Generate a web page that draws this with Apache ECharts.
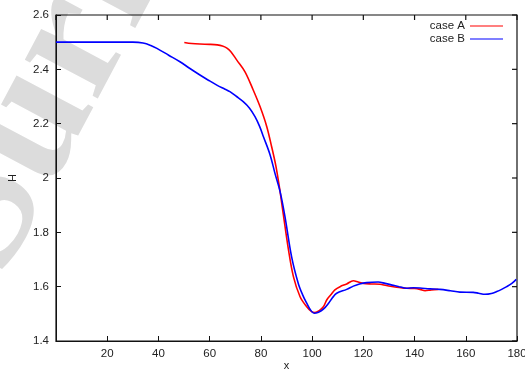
<!DOCTYPE html>
<html><head><meta charset="utf-8">
<script src="https://cdn.jsdelivr.net/npm/echarts@6/dist/echarts.min.js"></script>
<style>html,body{margin:0;padding:0;background:#fff}#c{width:525px;height:372px}</style>
</head><body><div id="c"></div>
<script>
const xTicks = [0, 20, 40, 60, 80, 100, 120, 140, 160, 180];
const yTicks = [1.4, 1.6, 1.8, 2.0, 2.2, 2.4, 2.6];
const caseA = [
 [50.1,2.499],[53,2.495],[56.2,2.493],[60,2.492],[63,2.49],[65,2.486],[66.6,2.479],[68.2,2.466],[70.6,2.434],[73.8,2.391],[77,2.324],[79.7,2.262],[82.3,2.189],[84.2,2.115],[85.9,2.042],[87.2,1.968],[88.7,1.87],[90.7,1.74],[92.7,1.637],[95.3,1.563],[97.9,1.526],[99.8,1.508],[101.1,1.505],[102.8,1.512],[104.4,1.526],[105.7,1.551],[107.3,1.57],[108.9,1.588],[110.9,1.6],[113.5,1.61],[116.1,1.622],[118,1.617],[120,1.612],[123,1.61],[126.5,1.609],[129,1.604],[131.7,1.6],[134,1.597],[136.9,1.594],[140,1.593],[142.1,1.59],[144.1,1.585],[146.5,1.588],[149.3,1.59]
];
const caseB = [
 [0,2.5],[10,2.5],[20,2.5],[30,2.5],[34,2.497],[37,2.488],[39.4,2.477],[44,2.452],[48.4,2.428],[52,2.405],[56.2,2.379],[59.5,2.36],[62.8,2.342],[66,2.327],[67.9,2.318],[70.5,2.3],[73.1,2.281],[75.5,2.258],[77.7,2.226],[79.5,2.19],[81,2.152],[83.6,2.085],[85.5,2.017],[87.5,1.95],[89.4,1.858],[92,1.71],[94.6,1.612],[96.3,1.57],[97.9,1.539],[99.3,1.515],[100.8,1.502],[102.5,1.506],[104.4,1.517],[106.5,1.54],[108,1.56],[109.6,1.576],[113.5,1.59],[116.1,1.602],[118.5,1.61],[121.3,1.615],[125.8,1.617],[128.5,1.612],[131.7,1.605],[134,1.6],[136.9,1.594],[139.5,1.596],[142.1,1.595],[146,1.592],[149.9,1.59],[154,1.585],[157.7,1.58],[162.9,1.579],[165,1.576],[167.5,1.572],[170,1.575],[172.1,1.582],[174,1.59],[176,1.6],[178,1.612],[179.7,1.627]
];
const seriesNames = ['case A', 'case B'];

const chart = echarts.init(document.getElementById('c'), null, {renderer:'canvas'});
const axisCol = '#111111';
const font = 'Liberation Sans, Arial, sans-serif';
function mirrorTicks(params, api) {
  const kind = api.value(0);
  const v = api.value(1);
  let p, q;
  if (kind === 0) { p = api.coord([v, 2.6]); q = [p[0], p[1] + 5]; }
  else { p = api.coord([180, v]); q = [p[0] - 5, p[1]]; }
  return {type:'line', shape:{x1:p[0], y1:p[1], x2:q[0], y2:q[1]}, style:{stroke:'#111111', lineWidth:1.2}};
}
const mirrorData = xTicks.map(t => [0, t]).concat(yTicks.map(t => [1, t]));
chart.setOption({
  animation:false,
  backgroundColor:'#fff',
  graphic:[{
    type:'text', z:-10, silent:true,
    x:40, y:300, rotation:62*Math.PI/180,
    style:{text:'Surf', fill:'#dcdcdc', font:'bold 180px "Liberation Serif", serif', textAlign:'left', textVerticalAlign:'bottom'}
  }],
  grid:{left:56, right:8, top:15, bottom:31, outerBoundsMode:'none', show:true, borderColor:'#111111', borderWidth:1.2},
  legend:{
    data:seriesNames, orient:'vertical', right:22, top:20, align:'right', padding:0,
    itemWidth:33, itemHeight:8, itemGap:1,
    textStyle:{fontFamily:font, fontSize:11.5, color:'#222', lineHeight:12},
    icon:'path://M0,5L33,5L33,6L0,6Z'
  },
  xAxis:[{type:'value', min:0, max:180, interval:20, splitLine:{show:false},
    axisLine:{onZero:false, lineStyle:{color:axisCol}},
    axisTick:{inside:true, length:5, lineStyle:{color:axisCol}},
    name:'x', nameLocation:'middle', nameGap:19, nameMoveOverlap:false,
    nameTextStyle:{fontFamily:font, fontSize:11, color:'#222'},
    axisLabel:{fontFamily:font, fontSize:11.5, color:'#222', margin:7,
      formatter:v => v === 0 ? '' : String(v)}}],
  yAxis:[{type:'value', min:1.4, max:2.6, interval:0.2, splitLine:{show:false},
    axisLine:{show:true, onZero:false, lineStyle:{color:axisCol}},
    axisTick:{show:true, inside:true, length:5, lineStyle:{color:axisCol}},
    name:'H', nameLocation:'middle', nameGap:38, nameRotate:90, nameMoveOverlap:false,
    nameTextStyle:{fontFamily:font, fontSize:11, color:'#222'},
    axisLabel:{fontFamily:font, fontSize:11.5, color:'#222', margin:7,
      formatter:v => { const r = Math.round(v*10)/10; return r === 2 ? '2' : r.toFixed(1); }}}],
  series:[
    {name:seriesNames[0], type:'line', data:caseA, symbol:'none', smooth:0.35,
     lineStyle:{color:'#ff0000', width:1.6}, itemStyle:{color:'#ff0000'}},
    {name:seriesNames[1], type:'line', data:caseB, symbol:'none', smooth:0.35,
     lineStyle:{color:'#0000ff', width:1.6}, itemStyle:{color:'#0000ff'}},
    {name:'ticks', type:'custom', data:mirrorData, renderItem:mirrorTicks, silent:true, clip:false, z:5}
  ]
});
</script></body></html>
